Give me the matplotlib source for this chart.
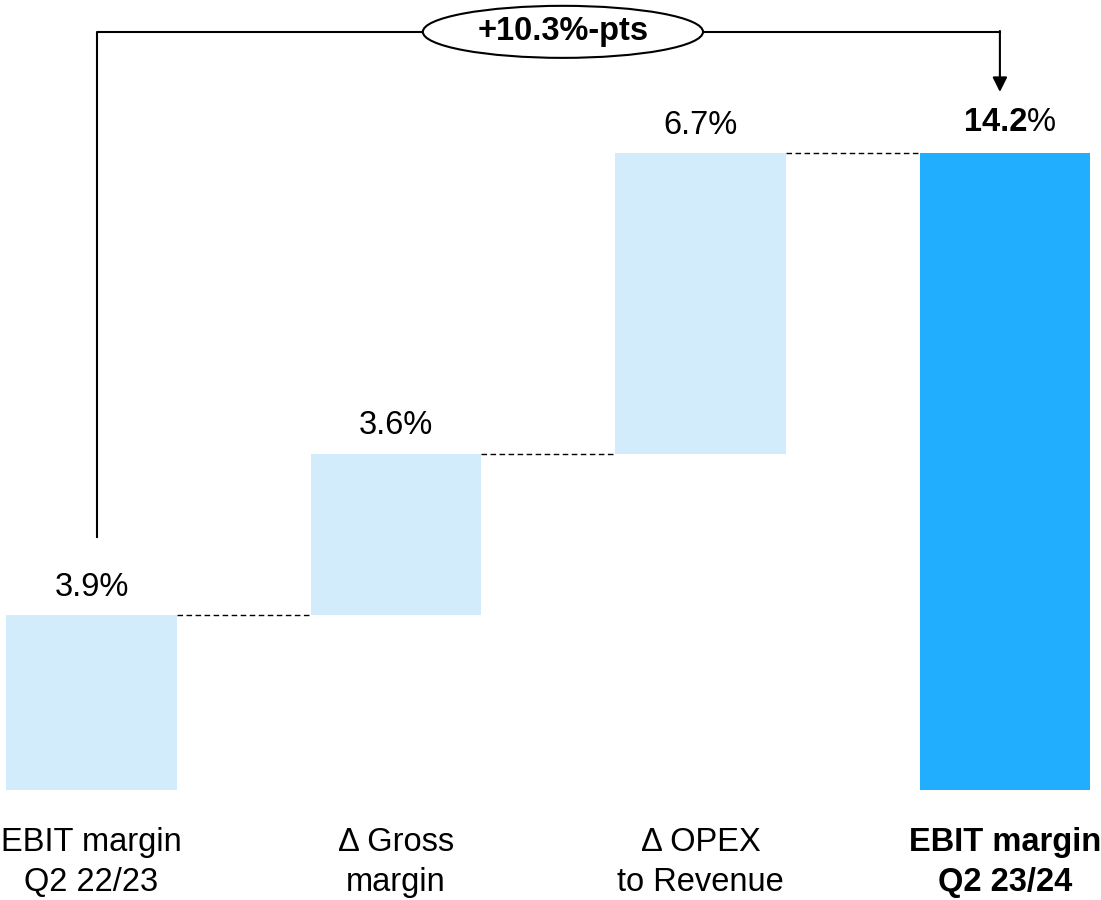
import matplotlib.pyplot as plt
from matplotlib.patches import Ellipse
import numpy as np

plt.rcParams['font.family'] = ['Liberation Sans', 'DejaVu Sans']

# Data
labels = ["EBIT margin\nQ2 22/23", "Δ Gross\nmargin", "Δ OPEX\nto Revenue", "EBIT margin\nQ2 23/24"]
steps = [3.9, 3.6, 6.7]
total = 14.2
value_text = ["3.9", "3.6", "6.7", "14.2"]
delta_text = "+10.3%-pts"

light = "#D3ECFC"
dark = "#22AEFF"
width = 0.56
fs = 23.5

bottoms = [0] + list(np.cumsum(steps)[:-1])
tops = list(np.cumsum(steps))
x = np.arange(len(labels))

fig = plt.figure(figsize=(11.01, 9), dpi=100)
ax = fig.add_axes([0, 0, 1, 1])
ax.set_xlim(-0.3005, 3.315)
ax.set_ylim(-2.452, 17.61)
ax.axis("off")

# bars
ax.bar(x[:3], steps, bottom=bottoms, width=width, color=light)
ax.bar(x[3], total, width=width, color=dark)

# dashed connectors between bar tops
for i, lv in enumerate(tops):
    ax.plot([x[i] + width / 2, x[i + 1] - width / 2], [lv, lv],
            ls=(0, (4, 2.5)), color="black", lw=1)

# value labels
for i in range(3):
    ax.annotate(value_text[i] + "%", (x[i], tops[i]), xytext=(0, 14),
                textcoords="offset points", ha="center", va="baseline",
                fontsize=fs)
# total: bold number, regular percent sign
ax.annotate(value_text[3], (x[3], total), xytext=(16, 16),
            textcoords="offset points", ha="right", va="baseline",
            fontsize=fs, fontweight="bold")
ax.annotate("%", (x[3], total), xytext=(16, 16),
            textcoords="offset points", ha="left", va="baseline",
            fontsize=fs)

# category labels
for i, lab in enumerate(labels):
    ax.text(x[i], -0.82, lab, ha="center", va="top", fontsize=fs,
            linespacing=1.4, fontweight="bold" if i == 3 else "normal")

# bracket with arrow
y_br = 16.9
ax.plot([x[0] + 0.018, x[0] + 0.018, x[3] - 0.017], [5.64, y_br, y_br],
        color="black", lw=1.5, zorder=3)
ax.annotate("", xy=(x[3] - 0.017, 15.56), xytext=(x[3] - 0.017, y_br + 0.02),
            arrowprops=dict(arrowstyle="-|>", color="black", lw=1.5,
                            mutation_scale=22, shrinkA=0, shrinkB=0))
ell = Ellipse((1.548, y_br), 0.92, 1.16, facecolor="white", edgecolor="black",
              lw=1.5, zorder=4)
ax.add_patch(ell)
ax.text(1.548, y_br, delta_text, ha="center", va="center", fontsize=fs,
        fontweight="bold", zorder=5)

fig.savefig("out.png", dpi=100)
